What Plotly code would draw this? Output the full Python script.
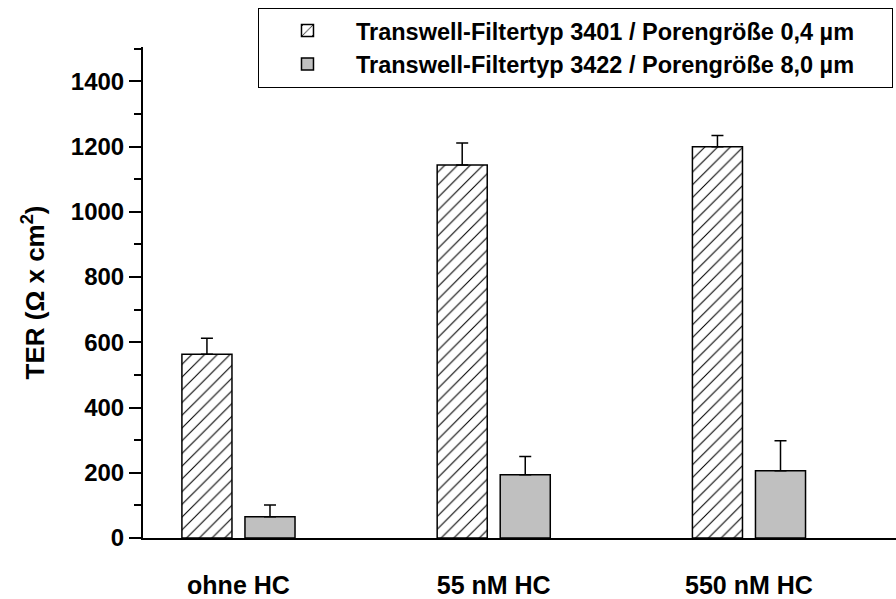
import plotly.graph_objects as go

categories = ["ohne HC", "55 nM HC", "550 nM HC"]
ter_3401 = [563, 1143, 1199]
err_3401 = [49, 68, 35]
ter_3422 = [65, 194, 206]
err_3422 = [36, 56, 92]
series_names = ["Transwell-Filtertyp 3401 / Porengröße 0,4 µm",
                "Transwell-Filtertyp 3422 / Porengröße 8,0 µm"]
y_ticks = [0, 200, 400, 600, 800, 1000, 1200, 1400]

FONT = "Liberation Sans, Arial, sans-serif"
PAD = "\u00a0" * 5
xpos = list(range(len(categories)))

fig = go.Figure()
fig.add_trace(go.Bar(
    x=xpos, y=ter_3401, name=series_names[0] + PAD,
    marker=dict(color="white", line=dict(color="black", width=1.5),
                pattern=dict(shape="/", size=9, solidity=0.12,
                             fgcolor="black", bgcolor="white", fillmode="replace")),
    error_y=dict(type="data", array=err_3401, arrayminus=[0]*3, symmetric=False,
                 color="black", thickness=1.5, width=6),
))
fig.add_trace(go.Bar(
    x=xpos, y=ter_3422, name=series_names[1] + PAD,
    marker=dict(color="#c0c0c0", line=dict(color="black", width=1.5)),
    error_y=dict(type="data", array=err_3422, arrayminus=[0]*3, symmetric=False,
                 color="black", thickness=1.5, width=6),
))

fig.update_layout(
    width=896, height=599,
    margin=dict(l=143, r=0, t=47, b=51),
    paper_bgcolor="white", plot_bgcolor="white",
    barmode="group", bargap=0.506, bargroupgap=0.206,
    font=dict(family=FONT, color="black", size=23, weight="bold"),
    showlegend=True,
    legend=dict(x=0.996, xanchor="right", y=1.08, yanchor="top",
                bordercolor="black", borderwidth=1, bgcolor="white",
                font=dict(family=FONT, size=23.5, color="black", weight="bold"),
                itemwidth=87, tracegroupgap=0),
)
fig.update_xaxes(
    range=[-0.374, 2.576], tickmode="array", tickvals=xpos, ticktext=categories,
    showline=True, linecolor="black", linewidth=2, ticks="", showgrid=False,
    zeroline=False, tickfont=dict(family=FONT, size=25, weight="bold"),
    ticklabelstandoff=24,
)
fig.update_yaxes(
    range=[0, 1505], tickmode="array", tickvals=y_ticks,
    showline=True, linecolor="black", linewidth=2, showgrid=False, zeroline=False,
    ticks="outside", ticklen=12, tickwidth=2, tickcolor="black",
    minor=dict(dtick=100, ticks="outside", ticklen=7, tickwidth=2, tickcolor="black", showgrid=False),
    tickfont=dict(family=FONT, size=24, weight="bold"),
    title=dict(text="TER (Ω x cm<sup>2</sup>)", font=dict(family=FONT, size=26, weight="bold"), standoff=19),
)

fig.write_html("out.html")
